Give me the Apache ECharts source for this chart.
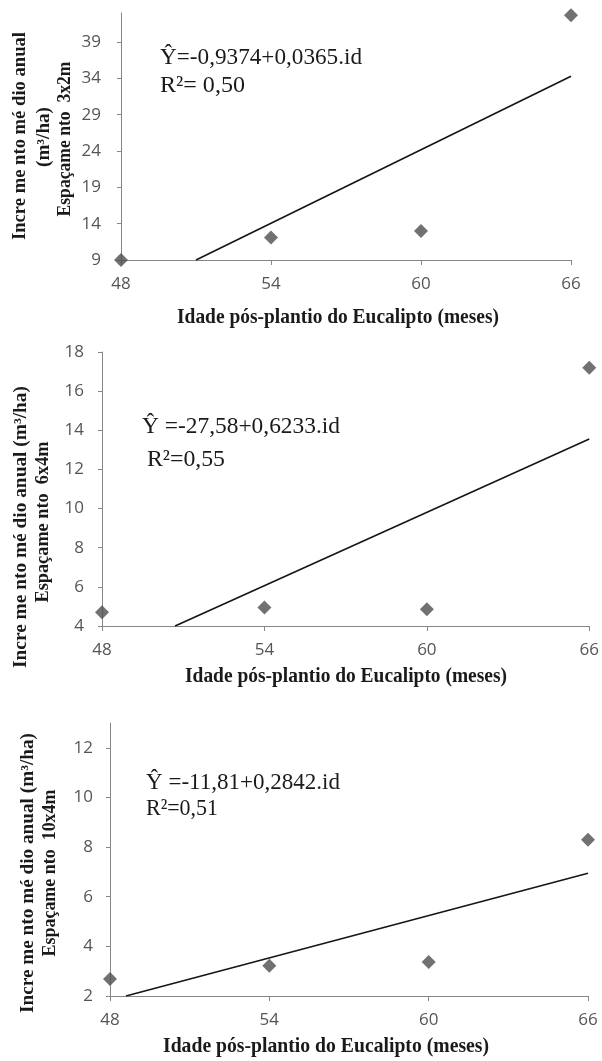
<!DOCTYPE html>
<html>
<head>
<meta charset="utf-8">
<script src="https://cdn.jsdelivr.net/npm/echarts@6/dist/echarts.min.js"></script>
<style>html,body{margin:0;padding:0;background:#fff}#c{width:602px;height:1061px}</style>
</head>
<body>
<div id="c"></div>
<script>
// ---- data ----
const months = [48, 54, 60, 66];
const xTicks = [48, 54, 60, 66];
const inc3x2 = [9.0, 12.1, 13.0, 42.7];
const inc6x4 = [4.7, 4.95, 4.85, 17.2];
const inc10x4 = [2.68, 3.22, 3.37, 8.3];
const trend3x2 = [[51.0, 9], [66, 34.3]];
const trend6x4 = [[50.7, 4], [66, 13.56]];
const trend10x4 = [[48.6, 2], [66, 6.95]];
const yTicks3x2 = [9, 14, 19, 24, 29, 34, 39];
const yTicks6x4 = [4, 6, 8, 10, 12, 14, 16, 18];
const yTicks10x4 = [2, 4, 6, 8, 10, 12];
const eq3x2 = ['Ŷ=-0,9374+0,0365.id', 'R²= 0,50'];
const eq6x4 = ['Ŷ =-27,58+0,6233.id', 'R²=0,55'];
const eq10x4 = ['Ŷ =-11,81+0,2842.id', 'R²=0,51'];
const xTitle = 'Idade pós-plantio do Eucalipto (meses)';
const yTitle3x2 = ['Incre me nto mé dio anual', '(m³/ha)', 'Espaçame nto  3x2m'];
const yTitle6x4 = ['Incre me nto mé dio anual (m³/ha)', 'Espaçame nto  6x4m'];
const yTitle10x4 = ['Incre me nto mé dio anual (m³/ha)', 'Espaçame nto  10x4m'];

// ---- layout helpers ----
const ctx = document.createElement('canvas').getContext('2d');
function fit(text, font, target) { ctx.font = font; return target / ctx.measureText(text).width; }
function txt(text, x, y, target, opt) {
  opt = opt || {};
  const size = opt.size || 16, weight = opt.weight || 'normal';
  const font = weight + ' ' + size + 'px "Liberation Serif"';
  return {
    type: 'text', x: x, y: y, rotation: opt.rot ? Math.PI / 2 : 0,
    scaleX: fit(text, font, target), z: 10,
    style: { text: text, font: font, fill: opt.color || '#1a1a1a',
      align: opt.align || 'center', verticalAlign: 'middle' }
  };
}

const axisGray = '#868686';
const labelStyle = { color: '#555555', fontFamily: 'Open Sans', fontSize: 17 };
const grids = [
  { left: 121, top: 13, width: 450, height: 247 },
  { left: 102, top: 352, width: 488, height: 274 },
  { left: 110, top: 723, width: 478, height: 273 }
];
const yCfg = [
  { min: 9, max: 43, ticks: yTicks3x2, margin: 20 },
  { min: 4, max: 18, ticks: yTicks6x4, margin: 18 },
  { min: 2, max: 13, ticks: yTicks10x4, margin: 17 }
];
const pts = [inc3x2, inc6x4, inc10x4];
const trends = [trend3x2, trend6x4, trend10x4];

const xAxes = grids.map((g, i) => ({
  type: 'value', gridIndex: i, min: 48, max: 66, interval: 6,
  splitLine: { show: false },
  axisLine: { show: true, onZero: false, lineStyle: { color: axisGray, width: 1 } },
  axisTick: { show: true, length: 5, lineStyle: { color: axisGray } },
  axisLabel: Object.assign({ margin: 16 }, labelStyle)
}));
const yAxes = yCfg.map((c, i) => ({
  type: 'value', gridIndex: i, min: c.min, max: c.max,
  splitLine: { show: false },
  axisLine: { show: true, onZero: false, lineStyle: { color: axisGray, width: 1 } },
  axisTick: { show: true, length: 4, customValues: c.ticks, lineStyle: { color: axisGray } },
  axisLabel: Object.assign({ margin: c.margin, customValues: c.ticks }, labelStyle)
}));
const series = [];
pts.forEach((p, i) => {
  series.push({
    type: 'line', xAxisIndex: i, yAxisIndex: i, data: trends[i],
    symbol: 'none', lineStyle: { color: '#151515', width: 1.6 }, z: 2, silent: true
  });
  series.push({
    type: 'scatter', xAxisIndex: i, yAxisIndex: i,
    data: months.map((m, k) => [m, p[k]]),
    symbol: 'diamond', symbolSize: 14, itemStyle: { color: '#4d4d4d' }, z: 3, clip: false
  });
});

const graphic = [
  // equations
  txt(eq3x2[0], 160, 58, 202, { size: 23, align: 'left' }),
  txt(eq3x2[1], 160, 86, 85, { size: 23, align: 'left' }),
  txt(eq6x4[0], 142, 427, 198, { size: 23, align: 'left' }),
  txt(eq6x4[1], 147, 460, 78, { size: 23, align: 'left' }),
  txt(eq10x4[0], 146, 783, 194, { size: 23, align: 'left' }),
  txt(eq10x4[1], 146, 809, 72, { size: 23, align: 'left' }),
  // x titles
  txt(xTitle, 338, 318, 322, { size: 21, weight: 'bold' }),
  txt(xTitle, 346, 677, 322, { size: 21, weight: 'bold' }),
  txt(xTitle, 326, 1047, 326, { size: 21, weight: 'bold' }),
  // y titles
  txt(yTitle3x2[0], 20, 136, 208, { size: 18, weight: 'bold', rot: true }),
  txt(yTitle3x2[1], 44, 137, 60, { size: 18, weight: 'bold', rot: true }),
  txt(yTitle3x2[2], 65, 139, 155, { size: 18, weight: 'bold', rot: true }),
  txt(yTitle6x4[0], 21, 527, 282, { size: 18, weight: 'bold', rot: true }),
  txt(yTitle6x4[1], 43, 522, 161, { size: 18, weight: 'bold', rot: true }),
  txt(yTitle10x4[0], 28, 873, 280, { size: 18, weight: 'bold', rot: true }),
  txt(yTitle10x4[1], 50, 873, 167, { size: 18, weight: 'bold', rot: true })
];

const chart = echarts.init(document.getElementById('c'), null, { renderer: 'canvas' });
chart.setOption({
  backgroundColor: '#ffffff',
  animation: false,
  grid: grids,
  xAxis: xAxes,
  yAxis: yAxes,
  series: series,
  graphic: graphic
});
</script>
</body>
</html>
